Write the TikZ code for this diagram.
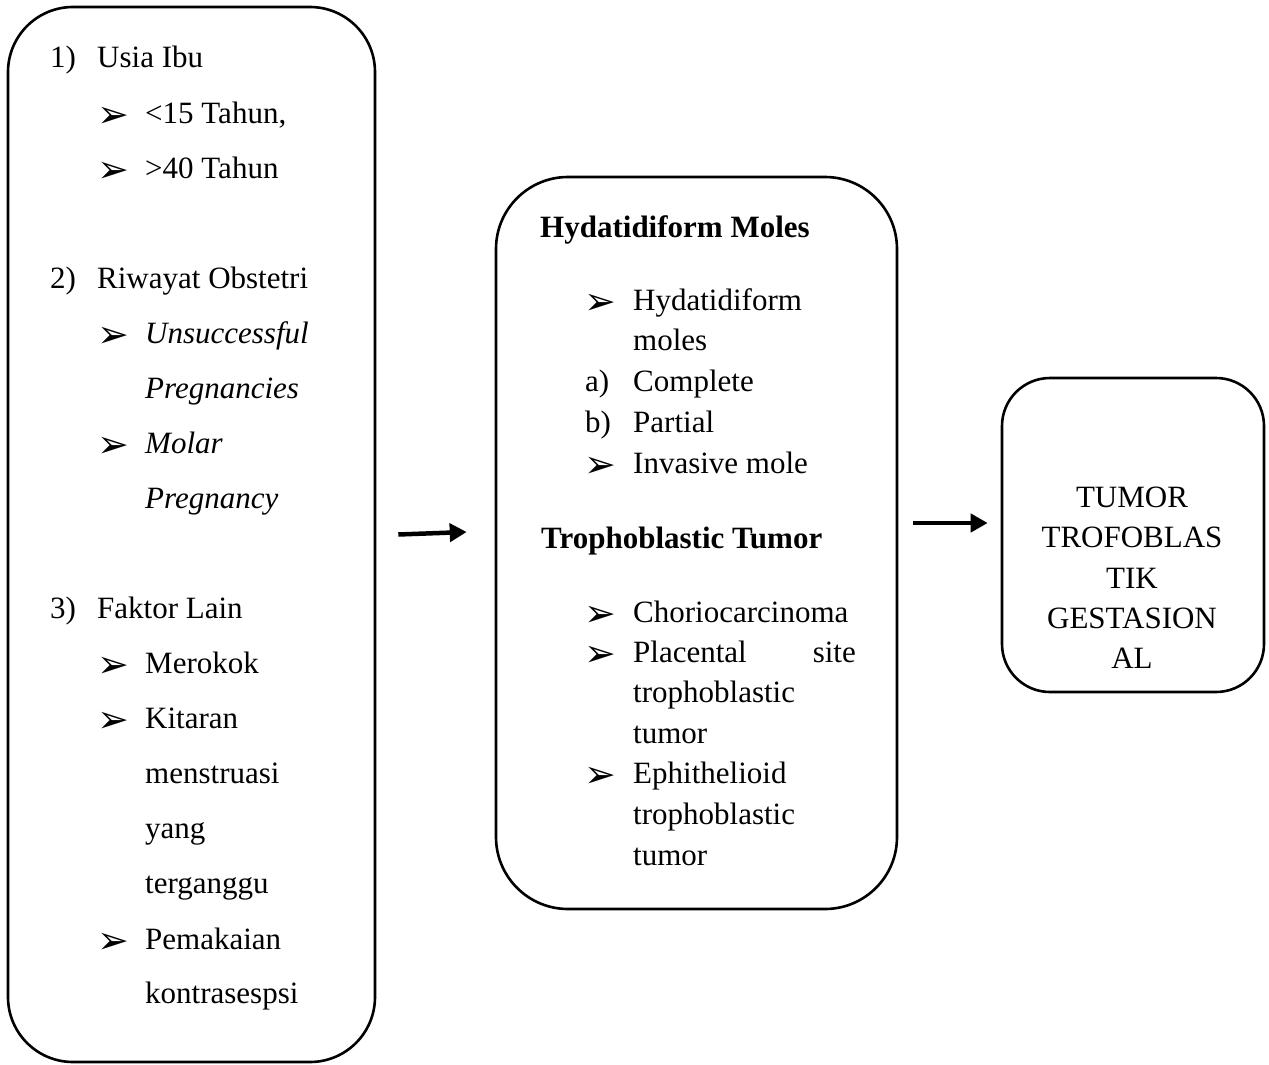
\documentclass[tikz,border=0pt]{standalone}
\usepackage{fontspec}
\setmainfont{Liberation Serif}
\newfontfamily\bulfont{DejaVu Sans}
\usetikzlibrary{arrows.meta}
\begin{document}
\begin{tikzpicture}[x=1pt,y=-1pt,
  box/.style={draw,line width=2.6pt,rounded corners=#1,inner sep=0pt},
  txt/.style={anchor=base west,inner sep=0pt,font=\fontsize{31}{31}\selectfont},
  ctr/.style={anchor=base,inner sep=0pt,font=\fontsize{31}{31}\selectfont},
  bul/.style={anchor=base west,inner sep=0pt,yshift=-4pt,font=\fontsize{38}{38}\bulfont},
  arr/.style={line width=4.5pt,-{Triangle[length=17pt,width=18pt]}}]
\useasboundingbox (0,0) rectangle (1269,1065);
% boxes
\node[box=65,minimum width=367pt,minimum height=1055pt] (left) at (191.5,534.5) {};
\node[box=72,minimum width=401pt,minimum height=732pt] (mid) at (696.5,543) {};
\node[box=48,minimum width=262pt,minimum height=314pt] (right) at (1133,535) {};
% left box text
\node[txt] (l1n) at (50,68) {1)};
\node[txt] (l1) at (97,68) {Usia Ibu};
\node[bul] (b1) at (97,123) {➢};
\node[txt] (l1a) at (145,123) {<15 Tahun,};
\node[bul] (b2) at (97,178) {➢};
\node[txt] (l1b) at (145,178) {>40 Tahun};
\node[txt] (l2n) at (50,288) {2)};
\node[txt] (l2) at (97,288) {Riwayat Obstetri};
\node[bul] (b3) at (97,343) {➢};
\node[txt] (l2a) at (145,343) {\itshape Unsuccessful};
\node[txt] (l2a2) at (145,398) {\itshape Pregnancies};
\node[bul] (b4) at (97,453) {➢};
\node[txt] (l2b) at (145,453) {\itshape Molar};
\node[txt] (l2b2) at (145,508) {\itshape Pregnancy};
\node[txt] (l3n) at (50,618) {3)};
\node[txt] (l3) at (97,618) {Faktor Lain};
\node[bul] (b5) at (97,673) {➢};
\node[txt] (l3a) at (145,673) {Merokok};
\node[bul] (b6) at (97,728) {➢};
\node[txt] (l3b) at (145,728) {Kitaran};
\node[txt] (l3b2) at (145,783) {menstruasi};
\node[txt] (l3b3) at (145,838) {yang};
\node[txt] (l3b4) at (145,893) {terganggu};
\node[bul] (b7) at (97,949) {➢};
\node[txt] (l3c) at (145,949) {Pemakaian};
\node[txt] (l3c2) at (145,1003) {kontrasespsi};
% middle box text
\node[txt] (h1) at (540,237) {\bfseries Hydatidiform Moles};
\node[bul] (m1) at (584,310) {➢};
\node[txt] (m1t) at (633,310) {Hydatidiform};
\node[txt] (m1t2) at (633,350) {moles};
\node[txt] (man) at (585,391) {a)};
\node[txt] (ma) at (633,391) {Complete};
\node[txt] (mbn) at (585,432) {b)};
\node[txt] (mb) at (633,432) {Partial};
\node[bul] (m2) at (584,473) {➢};
\node[txt] (m2t) at (633,473) {Invasive mole};
\node[txt] (h2) at (541,548) {\bfseries Trophoblastic Tumor};
\node[bul] (m3) at (584,622) {➢};
\node[txt] (m3t) at (633,622) {Choriocarcinoma};
\node[bul] (m4) at (584,662) {➢};
\node[txt] (m4t) at (633,662) {Placental};
\node[anchor=base east,inner sep=0pt,font=\fontsize{31}{31}\selectfont] (m4s) at (856,662) {site};
\node[txt] (m4t2) at (633,702) {trophoblastic};
\node[txt] (m4t3) at (633,743) {tumor};
\node[bul] (m5) at (584,783) {➢};
\node[txt] (m5t) at (633,783) {Ephithelioid};
\node[txt] (m5t2) at (633,824) {trophoblastic};
\node[txt] (m5t3) at (633,865) {tumor};
% right box text
\node[ctr] (r1) at (1132,507) {TUMOR};
\node[ctr] (r2) at (1132,547) {TROFOBLAS};
\node[ctr] (r3) at (1132,588) {TIK};
\node[ctr] (r4) at (1132,628) {GESTASION};
\node[ctr] (r5) at (1132,668) {AL};
% arrows
\draw[arr] ([xshift=22pt,yshift=0pt]left.east) -- ([xshift=-28pt,yshift=11pt]mid.west);
\draw[arr] ([xshift=15pt,yshift=20pt]mid.east) -- ([xshift=-13pt,yshift=12pt]right.west);
\end{tikzpicture}
\end{document}
